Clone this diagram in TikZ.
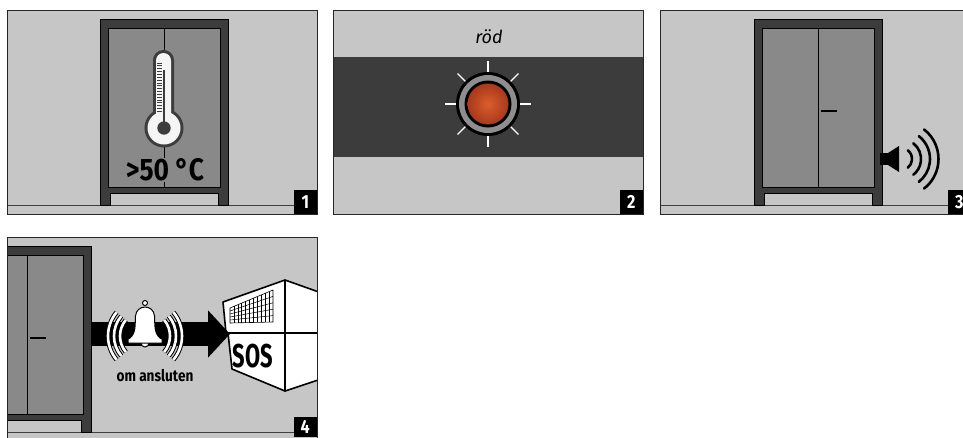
\documentclass[tikz,border=0pt]{standalone}
\usepackage{fontspec}
\setmainfont{Fira Sans}
\newfontfamily\etroit[FakeStretch=0.85]{Fira Sans}
\usetikzlibrary{positioning, arrows.meta, calc}

\definecolor{grisclair}{HTML}{C6C6C6}
\definecolor{grisporte}{HTML}{898989}
\definecolor{grisfonce}{HTML}{3C3C3C}
\definecolor{grisanneau}{HTML}{8E8E8E}
\definecolor{orangeled}{HTML}{DA5E2C}
\definecolor{orangebord}{HTML}{A8391B}

\begin{document}
\begin{tikzpicture}[x=1pt, y=-1pt,
        panneau/.style={fill=grisclair},
        bord/.style={draw=black!85, line width=0.9pt},
        sol/.style={draw=black!75, line width=0.8pt},
        porte/.style={fill=grisporte, draw=black, line width=0.8pt},
        numero/.style={
            fill=black,
            text=white,
            font=\etroit\bfseries\fontsize{19}{19}\selectfont,
            minimum width=23pt,
            minimum height=24pt,
            inner sep=0pt,
            anchor=south east
        },
        onde/.style={line width=2.6pt, line cap=round},
        rayon/.style={draw=white, line width=1.2pt},
        poignee/.style={line width=1.6pt},
        armoire/.pic={
            \fill[grisfonce, draw=black, line width=0.8pt]
                (0,186) -- (0,0) -- (128,0) -- (128,186) -- (118,186)
                -- (118,174) -- (10,174) -- (10,186) -- cycle;
            \draw[porte] (8,9) rectangle (120,168);
            \draw[line width=0.6pt] (64,9) -- (64,168);
            \coordinate (-poignee) at (67,92);
        }
    ]

    \clip (0,0) rectangle (963,437);

    % Vignette 1 : temperature
    \fill[panneau] (7,10) rectangle (317,214);
    \begin{scope}
        \clip (7,10) rectangle (317,214);
        \draw[sol] (7,205) -- (317,205);
        \pic (a1) at (100,19) {armoire};
        % thermometre
        \draw[grisfonce, line width=6pt, rounded corners=7.5] (156,53) rectangle (171,122);
        \draw[grisfonce, line width=6pt] (164,128) circle (16.5);
        \fill[white!96!black, rounded corners=7.5] (156,53) rectangle (171,122);
        \fill[white!96!black] (164,128) circle (16.5);
        \foreach \k in {0,...,17}
            \draw[grisfonce, line width=0.9pt] (157,{63+2.85*\k}) -- (162,{63+2.85*\k});
        \draw[grisfonce, line width=2.2pt] (164,70) -- (164,128);
        \fill[grisfonce] (164,128) circle (6.7);
        \node[fill=grisporte, inner sep=1pt, font=\etroit\bfseries\fontsize{31}{31}\selectfont]
            (temp) at (165,170) {>50 °C};
    \end{scope}
    \draw[bord] (7,10) rectangle (317,214);
    \node[numero] (n1) at (317,214.5) {1};

    % Vignette 2 : voyant
    \fill[panneau] (333,10) rectangle (643,214);
    \fill[grisfonce] (333,57) rectangle (643,157);
    \node[font=\itshape\fontsize{18}{18}\selectfont] (couleur) at (489,37) {röd};
    \coordinate (led) at (488,104);
    \foreach \a in {0,45,...,315}
        \draw[rayon] (led) -- ++(\a:43);
    \fill[black] (led) circle (32);
    \fill[grisanneau] (led) circle (29);
    \fill[black] (led) circle (23.5);
    \shade[inner color=orangeled, outer color=orangebord] (led) circle (20.5);
    \draw[bord] (333,10) rectangle (643,214);
    \node[numero] (n2) at (643,214.5) {2};

    % Vignette 3 : alarme sonore
    \fill[panneau] (660,10) rectangle (971,214);
    \begin{scope}
        \clip (660,10) rectangle (971,214);
        \draw[sol] (660,205) -- (971,205);
        \pic (a3) at (754,19) {armoire};
        \draw[poignee] (a3-poignee) -- ++(16,0);
        % haut-parleur
        \coordinate (hp) at (901,159);
        \fill[black] (880,153) rectangle (888,165);
        \fill[black] (888,153) -- (899,146) -- (899,172) -- (888,165) -- cycle;
        \foreach \r in {11,20,29,37.5}
            \draw[onde] ([shift={(-52:\r)}]hp) arc[start angle=-52, end angle=52, radius=\r];
    \end{scope}
    \draw[bord] (660,10) rectangle (971,214);
    \node[numero] (n3) at (971,214.5) {3};

    % Vignette 4 : transmission
    \fill[panneau] (7,237) rectangle (317,441);
    \begin{scope}
        \clip (7,237) rectangle (317,441);
        \draw[sol] (7,432) -- (317,432);
        \pic (a4) at (-37,246) {armoire};
        \draw[poignee] (a4-poignee) -- ++(16,0);

        % centrale SOS
        \begin{scope}[fill=white, draw=black, line width=1.6pt, line join=round]
            \filldraw (223,302) -- (285,280) -- (285,333) -- (226,333) -- cycle;
            \filldraw (285,280) -- (330,296) -- (330,333) -- (285,333) -- cycle;
            \filldraw (228,333) -- (285,333) -- (285,391) -- (232,369) -- cycle;
            \filldraw (285,333) -- (330,333) -- (330,376) -- (285,391) -- cycle;
        \end{scope}
        \coordinate (g1) at (230,308);
        \coordinate (g2) at (273,290);
        \coordinate (g3) at (273,322);
        \coordinate (g4) at (230,323);
        \draw[line width=0.6pt] (g1) -- (g2) -- (g3) -- (g4) -- cycle;
        \foreach \i in {1,...,10}
            \draw[line width=0.5pt] ($(g1)!\i/11!(g2)$) -- ($(g4)!\i/11!(g3)$);
        \foreach \j in {1,...,4}
            \draw[line width=0.5pt] ($(g1)!\j/5!(g4)$) -- ($(g2)!\j/5!(g3)$);
        \node[font=\etroit\bfseries\fontsize{33}{33}\selectfont] (sos) at (253,356)
            {\scalebox{0.78}[1]{SOS}};

        % fleche et cloche
        \coordinate (depart) at (91,334);
        \coordinate (arrivee) at (230,334);
        \draw[line width=24pt, -{Triangle[length=22pt, width=46pt]}] (depart) -- (arrivee);
        \coordinate (cloche) at (145,336);
        \foreach \r in {25,31,37} {
            \draw[line width=4.6pt] ([shift={(-40:\r)}]cloche) arc[start angle=-40, end angle=40, radius=\r];
            \draw[line width=2.6pt, white] ([shift={(-40:\r)}]cloche) arc[start angle=-40, end angle=40, radius=\r];
            \draw[line width=4.6pt] ([shift={(140:\r)}]cloche) arc[start angle=140, end angle=220, radius=\r];
            \draw[line width=2.6pt, white] ([shift={(140:\r)}]cloche) arc[start angle=140, end angle=220, radius=\r];
        }
        \filldraw[fill=white, line width=1pt] (145,343) circle (4);
        \filldraw[fill=white, line width=1pt]
            (130,338) .. controls (136,333) and (135,325) .. (135.5,316)
            .. controls (136.5,304) and (153.5,304) .. (154.5,316)
            .. controls (155,325) and (154,333) .. (160,338)
            -- (162,339) -- (162,343) -- (128,343) -- (128,339) -- cycle;
        \filldraw[fill=white, line width=1pt] (145,303) circle (2.5);
        \node[font=\etroit\bfseries\fontsize{16}{16}\selectfont] (info) at (155,376) {om ansluten};
    \end{scope}
    \draw[bord] (7,237) rectangle (317,441);
    \node[numero, minimum height=20pt] (n4) at (317,437) {4};

\end{tikzpicture}
\end{document}
